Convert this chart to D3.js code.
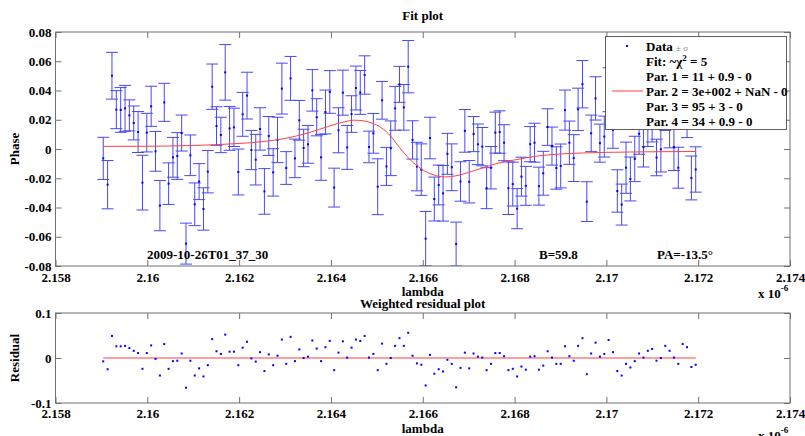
<!DOCTYPE html>
<html><head><meta charset="utf-8">
<script src="https://cdn.jsdelivr.net/npm/d3@7"></script>
<style>
body{margin:0;background:#fff;}
svg text{font-family:"Liberation Serif","Times New Roman",serif;font-weight:bold;font-size:13px;fill:#000;}
</style></head>
<body><svg id="c" width="805" height="436"></svg>
<script>
// ---- data (lambda in units of 1e-6 m) ----
const lambda = [2.159040,2.159135,2.159230,2.159325,2.159420,2.159515,2.159609,2.159704,2.159799,2.159894,
2.159989,2.160084,2.160179,2.160274,2.160369,2.160464,2.160558,2.160653,2.160748,2.160843,
2.160938,2.161033,2.161128,2.161223,2.161318,2.161413,2.161507,2.161602,2.161697,2.161792,
2.161887,2.161982,2.162077,2.162172,2.162267,2.162362,2.162456,2.162551,2.162646,2.162741,
2.162836,2.162931,2.163026,2.163121,2.163216,2.163311,2.163405,2.163500,2.163595,2.163690,
2.163785,2.163880,2.163975,2.164070,2.164165,2.164260,2.164354,2.164449,2.164544,2.164639,
2.164734,2.164829,2.164924,2.165019,2.165114,2.165209,2.165303,2.165398,2.165493,2.165588,
2.165683,2.165778,2.165873,2.165968,2.166063,2.166158,2.166252,2.166347,2.166442,2.166537,
2.166632,2.166727,2.166822,2.166917,2.167012,2.167107,2.167201,2.167296,2.167391,2.167486,
2.167581,2.167676,2.167771,2.167866,2.167961,2.168056,2.168150,2.168245,2.168340,2.168435,
2.168530,2.168625,2.168720,2.168815,2.168910,2.169005,2.169099,2.169194,2.169289,2.169384,
2.169479,2.169574,2.169669,2.169764,2.169859,2.169954,2.170048,2.170143,2.170238,2.170333,
2.170428,2.170523,2.170618,2.170713,2.170808,2.170903,2.170997,2.171092,2.171187,2.171282,
2.171377,2.171472,2.171567,2.171662,2.171757,2.171852,2.171946];

const phase = [-0.0064,-0.0244,0.0501,0.0269,0.0267,0.0278,0.0230,0.0178,0.0116,-0.0230,
0.0112,0.0292,-0.0016,-0.0387,0.0319,-0.0237,-0.0057,-0.0048,0.0109,-0.0647,
-0.0043,-0.0378,-0.0223,-0.0410,-0.0155,0.0426,0.0157,0.0096,0.0524,0.0141,
0.0148,-0.0157,0.0237,0.0365,-0.0007,-0.0073,0.0137,-0.0290,0.0089,-0.0160,
0.0062,0.0413,-0.0130,0.0483,-0.0064,0.0196,0.0007,0.0032,0.0401,0.0217,
-0.0057,0.0253,0.0390,-0.0264,0.0128,0.0385,0.0011,0.0239,0.0417,0.0387,
0.0506,0.0014,0.0107,-0.0258,0.0333,-0.0119,0.0005,0.0278,0.0442,0.0285,
0.0563,0.0062,-0.0120,-0.0141,-0.0613,0.0075,-0.0342,-0.0246,-0.0303,-0.0033,
-0.0125,-0.0650,-0.0222,0.0124,-0.0224,0.0102,0.0032,0.0016,-0.0268,-0.0128,
0.0112,0.0116,0.0043,-0.0268,-0.0240,-0.0408,-0.0189,-0.0252,0.0033,0.0043,
-0.0254,-0.0166,0.0150,0.0020,-0.0130,-0.0116,0.0266,0.0043,-0.0062,0.0271,
0.0443,-0.0360,0.0107,0.0346,0.0040,0.0085,0.0405,0.0130,-0.0287,-0.0380,
-0.0128,-0.0205,-0.0068,0.0104,0.0012,0.0162,0.0198,-0.0058,-0.0002,0.0272,
0.0158,0.0013,-0.0128,0.0310,0.0238,-0.0198,-0.0140];

const sigma = [0.0144,0.0165,0.0160,0.0130,0.0153,0.0157,0.0106,0.0116,0.0140,0.0187,
0.0132,0.0137,0.0136,0.0172,0.0130,0.0142,0.0136,0.0160,0.0123,0.0140,
0.0139,0.0146,0.0123,0.0145,0.0145,0.0155,0.0132,0.0121,0.0190,0.0150,
0.0131,0.0157,0.0150,0.0160,0.0134,0.0173,0.0145,0.0156,0.0133,0.0162,
0.0155,0.0174,0.0112,0.0150,0.0132,0.0136,0.0128,0.0129,0.0142,0.0127,
0.0157,0.0150,0.0146,0.0133,0.0154,0.0154,0.0150,0.0125,0.0150,0.0150,
0.0131,0.0108,0.0136,0.0191,0.0129,0.0130,0.0187,0.0150,0.0123,0.0156,
0.0179,0.0131,0.0166,0.0176,0.0186,0.0142,0.0150,0.0136,0.0190,0.0140,
0.0160,0.0150,0.0135,0.0146,0.0145,0.0120,0.0139,0.0131,0.0140,0.0145,
0.0140,0.0145,0.0123,0.0180,0.0150,0.0137,0.0133,0.0133,0.0120,0.0133,
0.0130,0.0150,0.0125,0.0130,0.0145,0.0150,0.0137,0.0148,0.0160,0.0145,
0.0162,0.0136,0.0125,0.0148,0.0130,0.0140,0.0150,0.0125,0.0145,0.0140,
0.0175,0.0150,0.0155,0.0140,0.0135,0.0145,0.0150,0.0125,0.0155,0.0145,
0.0150,0.0160,0.0140,0.0145,0.0160,0.0150,0.0155];

const residual = [-0.0074,-0.025,0.049,0.026,0.026,0.027,0.022,0.016,0.011,-0.024,
0.011,0.028,-0.002,-0.039,0.031,-0.024,-0.007,-0.006,0.010,-0.066,
-0.006,-0.039,-0.023,-0.041,-0.016,0.042,0.015,0.009,0.052,0.014,
0.014,-0.016,0.023,0.036,-0.001,-0.008,0.013,-0.029,0.008,-0.016,
0.005,0.041,-0.013,0.047,-0.007,0.019,0.000,0.003,0.039,0.021,
-0.007,0.024,0.038,-0.027,0.012,0.037,0.001,0.023,0.041,0.038,
0.049,0.001,0.009,-0.027,0.032,-0.013,0.000,0.027,0.044,0.027,
0.056,0.005,-0.012,-0.015,-0.061,0.007,-0.035,-0.025,-0.030,-0.004,
-0.013,-0.065,-0.022,0.012,-0.023,0.010,0.003,0.001,-0.027,-0.013,
0.011,0.011,0.004,-0.027,-0.024,-0.041,-0.019,-0.026,0.003,0.004,
-0.026,-0.017,0.015,0.001,-0.013,-0.013,0.026,0.004,-0.006,0.027,
0.044,-0.036,0.010,0.034,0.003,0.009,0.040,0.013,-0.029,-0.039,
-0.013,-0.021,-0.007,0.010,0.001,0.016,0.020,-0.006,0.000,0.027,
0.016,0.001,-0.013,0.031,0.024,-0.020,-0.015];

const fitLambda = [2.15904,2.1600,2.1610,2.1620,2.1625,2.1630,2.1635,2.1640,2.1643,2.1645,2.1647,2.1649,
2.1651,2.1652,2.1653,2.1654,2.1655,2.1656,2.1657,2.1658,2.1659,2.1660,2.1661,2.1662,2.1663,2.1664,
2.1665,2.1666,2.1668,2.1670,2.1673,2.1676,2.1680,2.1685,2.1690,2.1695,2.1700,2.1710,2.17195];
const fitPhase = [0.0018,0.0019,0.0024,0.0038,0.0050,0.0072,0.0110,0.0160,0.0186,0.0197,0.0193,0.0176,
0.0145,0.0120,0.0088,0.0048,0.0008,-0.0030,-0.0065,-0.0095,-0.0120,-0.0143,-0.0160,-0.0173,-0.0183,-0.0189,
-0.0191,-0.0189,-0.0178,-0.0160,-0.0130,-0.0100,-0.0075,-0.0048,-0.0034,-0.0027,-0.0023,-0.0019,-0.0017];

const xTicks = [2.158,2.160,2.162,2.164,2.166,2.168,2.170,2.172,2.174];
const xTickLabels = ["2.158","2.16","2.162","2.164","2.166","2.168","2.17","2.172","2.174"];
const yTicks = [-0.08,-0.06,-0.04,-0.02,0,0.02,0.04,0.06,0.08];
const yTickLabels = ["-0.08","-0.06","-0.04","-0.02","0","0.02","0.04","0.06","0.08"];
const rTicks = [-0.1,0,0.1];
const rTickLabels = ["-0.1","0","0.1"];

// ---- drawing ----
const svg = d3.select("#c");
const L = 55.5, R = 790;
const x = d3.scaleLinear().domain([2.158,2.174]).range([L,R]);
const y = d3.scaleLinear().domain([-0.08,0.08]).range([266,32]);
const yr = d3.scaleLinear().domain([-0.1,0.1]).range([403,313]);
const axisCol = "#707070";

function frame(ys, yt, ytl, top, bot, padX){
  const g = svg.append("g");
  g.append("rect").attr("x",L).attr("y",top).attr("width",R-L).attr("height",bot-top)
   .attr("fill","none").attr("stroke",axisCol);
  const ax = g.append("g").attr("transform",`translate(0,${bot})`)
   .call(d3.axisBottom(x).tickValues(xTicks).tickFormat((d,i)=>xTickLabels[i]).tickSize(-6).tickPadding(padX));
  const axt = g.append("g").attr("transform",`translate(0,${top})`)
   .call(d3.axisTop(x).tickValues(xTicks).tickFormat("").tickSize(-6));
  const ay = g.append("g").attr("transform",`translate(${L},0)`)
   .call(d3.axisLeft(ys).tickValues(yt).tickFormat((d,i)=>ytl[i]).tickSize(-6).tickPadding(4));
  const ayr = g.append("g").attr("transform",`translate(${R},0)`)
   .call(d3.axisRight(ys).tickValues(yt).tickFormat("").tickSize(-6));
  [ax,axt,ay,ayr].forEach(a=>{a.select(".domain").remove();
    a.selectAll("line").attr("stroke",axisCol);
    a.selectAll("text").attr("fill","#000").style("font-size","13px")
     .style("font-family",'"Liberation Serif",serif').style("font-weight","bold");});
  return g;
}

// top panel
svg.append("defs").append("clipPath").attr("id","clipTop")
  .append("rect").attr("x",L).attr("y",32).attr("width",R-L).attr("height",234);
const pts = lambda.map((l,i)=>({l, p:phase[i], s:sigma[i], r:residual[i]}));
const gTop = svg.append("g").attr("clip-path","url(#clipTop)");
const eb = gTop.append("g").attr("stroke","#4848f4").attr("stroke-width",1);
pts.forEach(d=>{
  const cx = x(d.l), y1 = y(d.p + d.s), y2 = y(d.p - d.s);
  eb.append("line").attr("x1",cx).attr("x2",cx).attr("y1",y1).attr("y2",y2);
  eb.append("line").attr("x1",cx-6).attr("x2",cx+6).attr("y1",y1).attr("y2",y1);
  eb.append("line").attr("x1",cx-6).attr("x2",cx+6).attr("y1",y2).attr("y2",y2);
});
gTop.append("g").selectAll("rect").data(pts).join("rect")
  .attr("x",d=>x(d.l)-1).attr("y",d=>y(d.p)-1).attr("width",2).attr("height",2).attr("fill","#0000ff");
const fitPts = fitLambda.map((l,i)=>[l,fitPhase[i]]);
gTop.append("path").datum(fitPts)
  .attr("d",d3.line().x(d=>x(d[0])).y(d=>y(d[1])).curve(d3.curveMonotoneX))
  .attr("fill","none").attr("stroke","#ff4040").attr("stroke-width",1);

frame(y, yTicks, yTickLabels, 32, 266, 7);

// annotations
svg.append("text").attr("x",147).attr("y",259).text("2009-10-26T01_37_30");
svg.append("text").attr("x",539).attr("y",259).text("B=59.8");
svg.append("text").attr("x",657).attr("y",259).text("PA=-13.5°");

// legend
const lg = svg.append("g");
lg.append("rect").attr("x",605.5).attr("y",36.5).attr("width",181).attr("height",93)
  .attr("fill","#fff").attr("stroke","#606060");
lg.append("rect").attr("x",626).attr("y",45).attr("width",2).attr("height",2).attr("fill","#0000ff");
const t0 = lg.append("text").attr("x",646).attr("y",51);
t0.append("tspan").text("Data ");
t0.append("tspan").attr("fill","#888").style("font-size","9px").style("font-weight","normal").text("± σ");
const t1 = lg.append("text").attr("x",646).attr("y",66);
t1.append("tspan").text("Fit: ~χ");
t1.append("tspan").attr("dy",-5).style("font-size","9px").text("2");
t1.append("tspan").attr("dy",5).text(" = 5");
const parLines = ["Par. 1 = 11 + 0.9 - 0","Par. 2 = 3e+002 + NaN - 0","Par. 3 = 95 + 3 - 0","Par. 4 = 34 + 0.9 - 0"];
parLines.forEach((s,i)=>lg.append("text").attr("x",646).attr("y",81+15*i).text(s));
lg.append("line").attr("x1",612).attr("x2",643).attr("y1",91).attr("y2",91)
  .attr("stroke","#ff4040").attr("stroke-width",1);

// titles & labels (top)
svg.append("text").attr("x",422.7).attr("y",20).attr("text-anchor","middle").text("Fit plot");
svg.append("text").attr("x",422.7).attr("y",296).attr("text-anchor","middle").text("lambda");
svg.append("text").attr("transform","translate(19,149) rotate(-90)").attr("text-anchor","middle").text("Phase");
const e1 = svg.append("text").attr("x",758).attr("y",298);
e1.append("tspan").text("x 10");
e1.append("tspan").attr("dy",-7).style("font-size","9px").text("-6");

// bottom panel
svg.append("text").attr("x",422.7).attr("y",308).attr("text-anchor","middle").text("Weighted residual plot");
const gBot = svg.append("g");
gBot.append("line").attr("x1",x(lambda[0])).attr("x2",x(lambda[lambda.length-1]))
  .attr("y1",yr(0)).attr("y2",yr(0)).attr("stroke","#ff4040").attr("stroke-width",1);
gBot.selectAll("rect").data(pts).join("rect")
  .attr("x",d=>x(d.l)-1).attr("y",d=>yr(d.r)-1).attr("width",2).attr("height",2).attr("fill","#0000ff");
frame(yr, rTicks, rTickLabels, 313, 403, 6);
svg.append("text").attr("x",422.7).attr("y",433).attr("text-anchor","middle").text("lambda");
svg.append("text").attr("transform","translate(19,358) rotate(-90)").attr("text-anchor","middle").text("Residual");
const e2 = svg.append("text").attr("x",758).attr("y",440);
e2.append("tspan").text("x 10");
e2.append("tspan").attr("dy",-7).style("font-size","9px").text("-6");
</script></body></html>
